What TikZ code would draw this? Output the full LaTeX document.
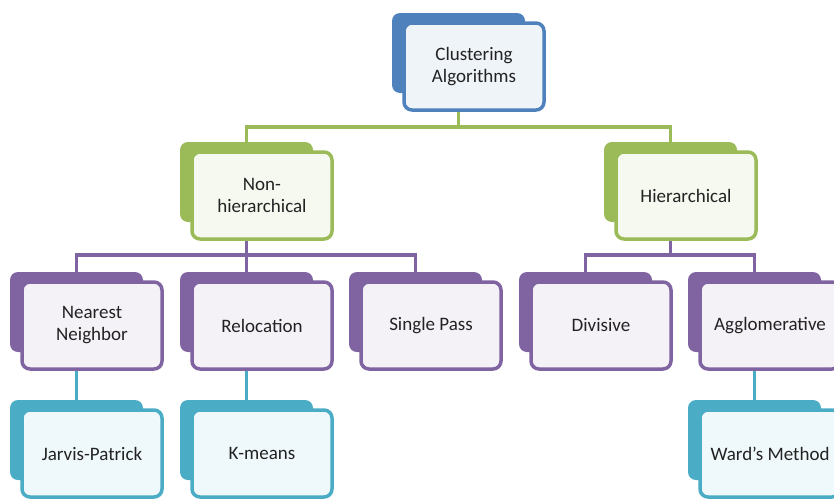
\documentclass[tikz,border=0pt]{standalone}
\usepackage{fontspec}
\setmainfont{Carlito}
\usetikzlibrary{calc,backgrounds}
\definecolor{cblue}{HTML}{4F81BD}
\definecolor{cgreen}{HTML}{9BBB59}
\definecolor{cpurple}{HTML}{8064A2}
\definecolor{cteal}{HTML}{4BACC6}
\definecolor{txt}{HTML}{222222}
\tikzset{
 backbox/.style={fill=#1, rounded corners=8pt, minimum width=133pt, minimum height=80pt, anchor=north west, inner sep=0pt, outer sep=0pt},
 frontbox/.style={draw=#1, fill=#1!9!white, line width=3.5pt, rounded corners=8pt, minimum width=140pt, minimum height=87pt, anchor=north west, inner sep=2pt, outer sep=0pt, align=center, text=txt, font=\fontsize{19}{22}\selectfont},
 conn/.style={draw=#1, line width=3.5pt},
}
\newcommand{\stackbox}[4]{%
  \node[backbox=#1] (#2) at (#3) {};
  \node[frontbox=#1] (#2f) at ($(#2.north west)+(12,10)$) {#4};
}
\begin{document}
\begin{tikzpicture}[x=1pt,y=-1pt]
\clip (0,0) rectangle (834,498);
\stackbox{cblue}{ca}{392,13}{Clustering\\Algorithms}
\stackbox{cgreen}{nh}{180,142}{Non-\\hierarchical}
\stackbox{cgreen}{hi}{604,142}{Hierarchical}
\stackbox{cpurple}{nn}{10,272}{Nearest\\Neighbor}
\stackbox{cpurple}{rl}{180,272}{Relocation}
\stackbox{cpurple}{sp}{349,272}{Single Pass}
\stackbox{cpurple}{dv}{519,272}{Divisive}
\stackbox{cpurple}{ag}{688,272}{Agglomerative}
\stackbox{cteal}{jp}{10,400}{Jarvis-Patrick}
\stackbox{cteal}{km}{180,400}{K-means}
\stackbox{cteal}{wm}{688,400}{Ward's Method}
\begin{pgfonlayer}{background}
\coordinate (b0) at (ca.south |- 0,127);
\draw[conn=cgreen] (ca.south) -- (b0) -| (nh.north);
\draw[conn=cgreen] (b0) -| (hi.north);
\coordinate (b1) at (nh.south |- 0,255);
\draw[conn=cpurple] (nh.south) -- (b1) -- (rl.north);
\draw[conn=cpurple] (nn.north) |- (b1) -| (sp.north);
\coordinate (b2) at (hi.south |- 0,255);
\draw[conn=cpurple] (hi.south) -- (b2);
\draw[conn=cpurple] (dv.north) |- (b2) -| (ag.north);
\draw[conn=cteal] (nn.south) -- (jp.north);
\draw[conn=cteal] (rl.south) -- (km.north);
\draw[conn=cteal] (ag.south) -- (wm.north);
\end{pgfonlayer}
\end{tikzpicture}
\end{document}
